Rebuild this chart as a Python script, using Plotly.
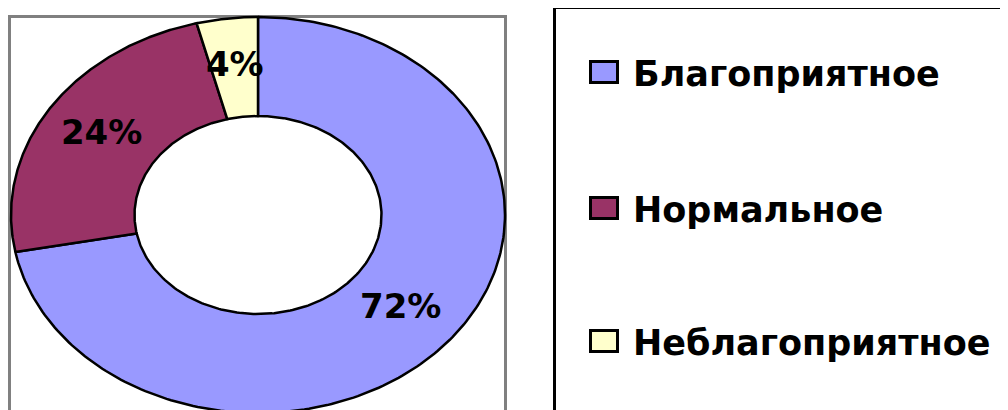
import numpy as np
import plotly.graph_objects as go

categories = ["Благоприятное", "Нормальное", "Неблагоприятное"]
values = [72, 24, 4]
labels = ["72%", "24%", "4%"]
colors = ["#9999FF", "#993366", "#FFFFCC"]

# layout geometry (screen pixels; page body has an 8px margin)
W, H = 1008, 410
OFF = 8
CX, CY = 258, 215
RX, RY = 247, 198
HOLE = 0.5
FONT = "DejaVu Sans"

fig = go.Figure()

total = sum(values)
cum = 0.0
lab_x, lab_y = [], []
for cat, v, col in zip(categories, values, colors):
    f0 = cum / total
    f1 = (cum + v) / total
    cum += v
    t = np.radians(90 - 360 * np.linspace(f0, f1, 240))
    xo = CX + RX * np.cos(t)
    yo = CY - RY * np.sin(t)
    xi = CX + RX * HOLE * np.cos(t[::-1])
    yi = CY - RY * HOLE * np.sin(t[::-1])
    xs = np.concatenate([xo, xi, xo[:1]])
    ys = np.concatenate([yo, yi, yo[:1]])
    fig.add_trace(go.Scatter(x=xs, y=ys, mode="lines", fill="toself",
                             fillcolor=col, line=dict(color="black", width=2.5),
                             name=cat, hoverinfo="name", showlegend=False))
    tm = np.radians(90 - 360 * (f0 + f1) / 2)
    rm = (1 + HOLE) / 2
    lab_x.append(CX + RX * rm * np.cos(tm))
    lab_y.append(CY - RY * rm * np.sin(tm))

fig.add_trace(go.Scatter(x=lab_x, y=lab_y, mode="text", text=labels,
                         textposition="middle center",
                         textfont=dict(family=FONT, size=34, color="black", weight="bold"),
                         hoverinfo="skip", showlegend=False))

shapes = [
    dict(type="rect", xref="x", yref="y", x0=9.5, y0=16.5, x1=505.5, y1=430,
         line=dict(color="#808080", width=3), fillcolor="white", layer="below"),
    dict(type="rect", xref="x", yref="y", x0=554.5, y0=7.5, x1=1030, y1=430,
         line=dict(color="black", width=3), fillcolor="rgba(0,0,0,0)", layer="above"),
]
annotations = []
leg_y = [72, 208, 341]
for cat, col, ly in zip(categories, colors, leg_y):
    shapes.append(dict(type="rect", xref="x", yref="y", x0=590.5, x1=617.5,
                       y0=ly - 10.5, y1=ly + 10.5,
                       line=dict(color="black", width=3), fillcolor=col))
    annotations.append(dict(x=631, y=ly + 2, xref="x", yref="y", text=cat,
                            showarrow=False, xanchor="left", yanchor="middle",
                            font=dict(family=FONT, size=35, color="black", weight="bold")))

fig.update_layout(
    width=W, height=H, margin=dict(l=0, r=0, t=0, b=0),
    paper_bgcolor="white", plot_bgcolor="white",
    xaxis=dict(range=[OFF, W + OFF], visible=False, fixedrange=True),
    yaxis=dict(range=[H + OFF, OFF], visible=False, fixedrange=True),
    shapes=shapes, annotations=annotations, showlegend=False,
)

fig.write_html("out.html")
